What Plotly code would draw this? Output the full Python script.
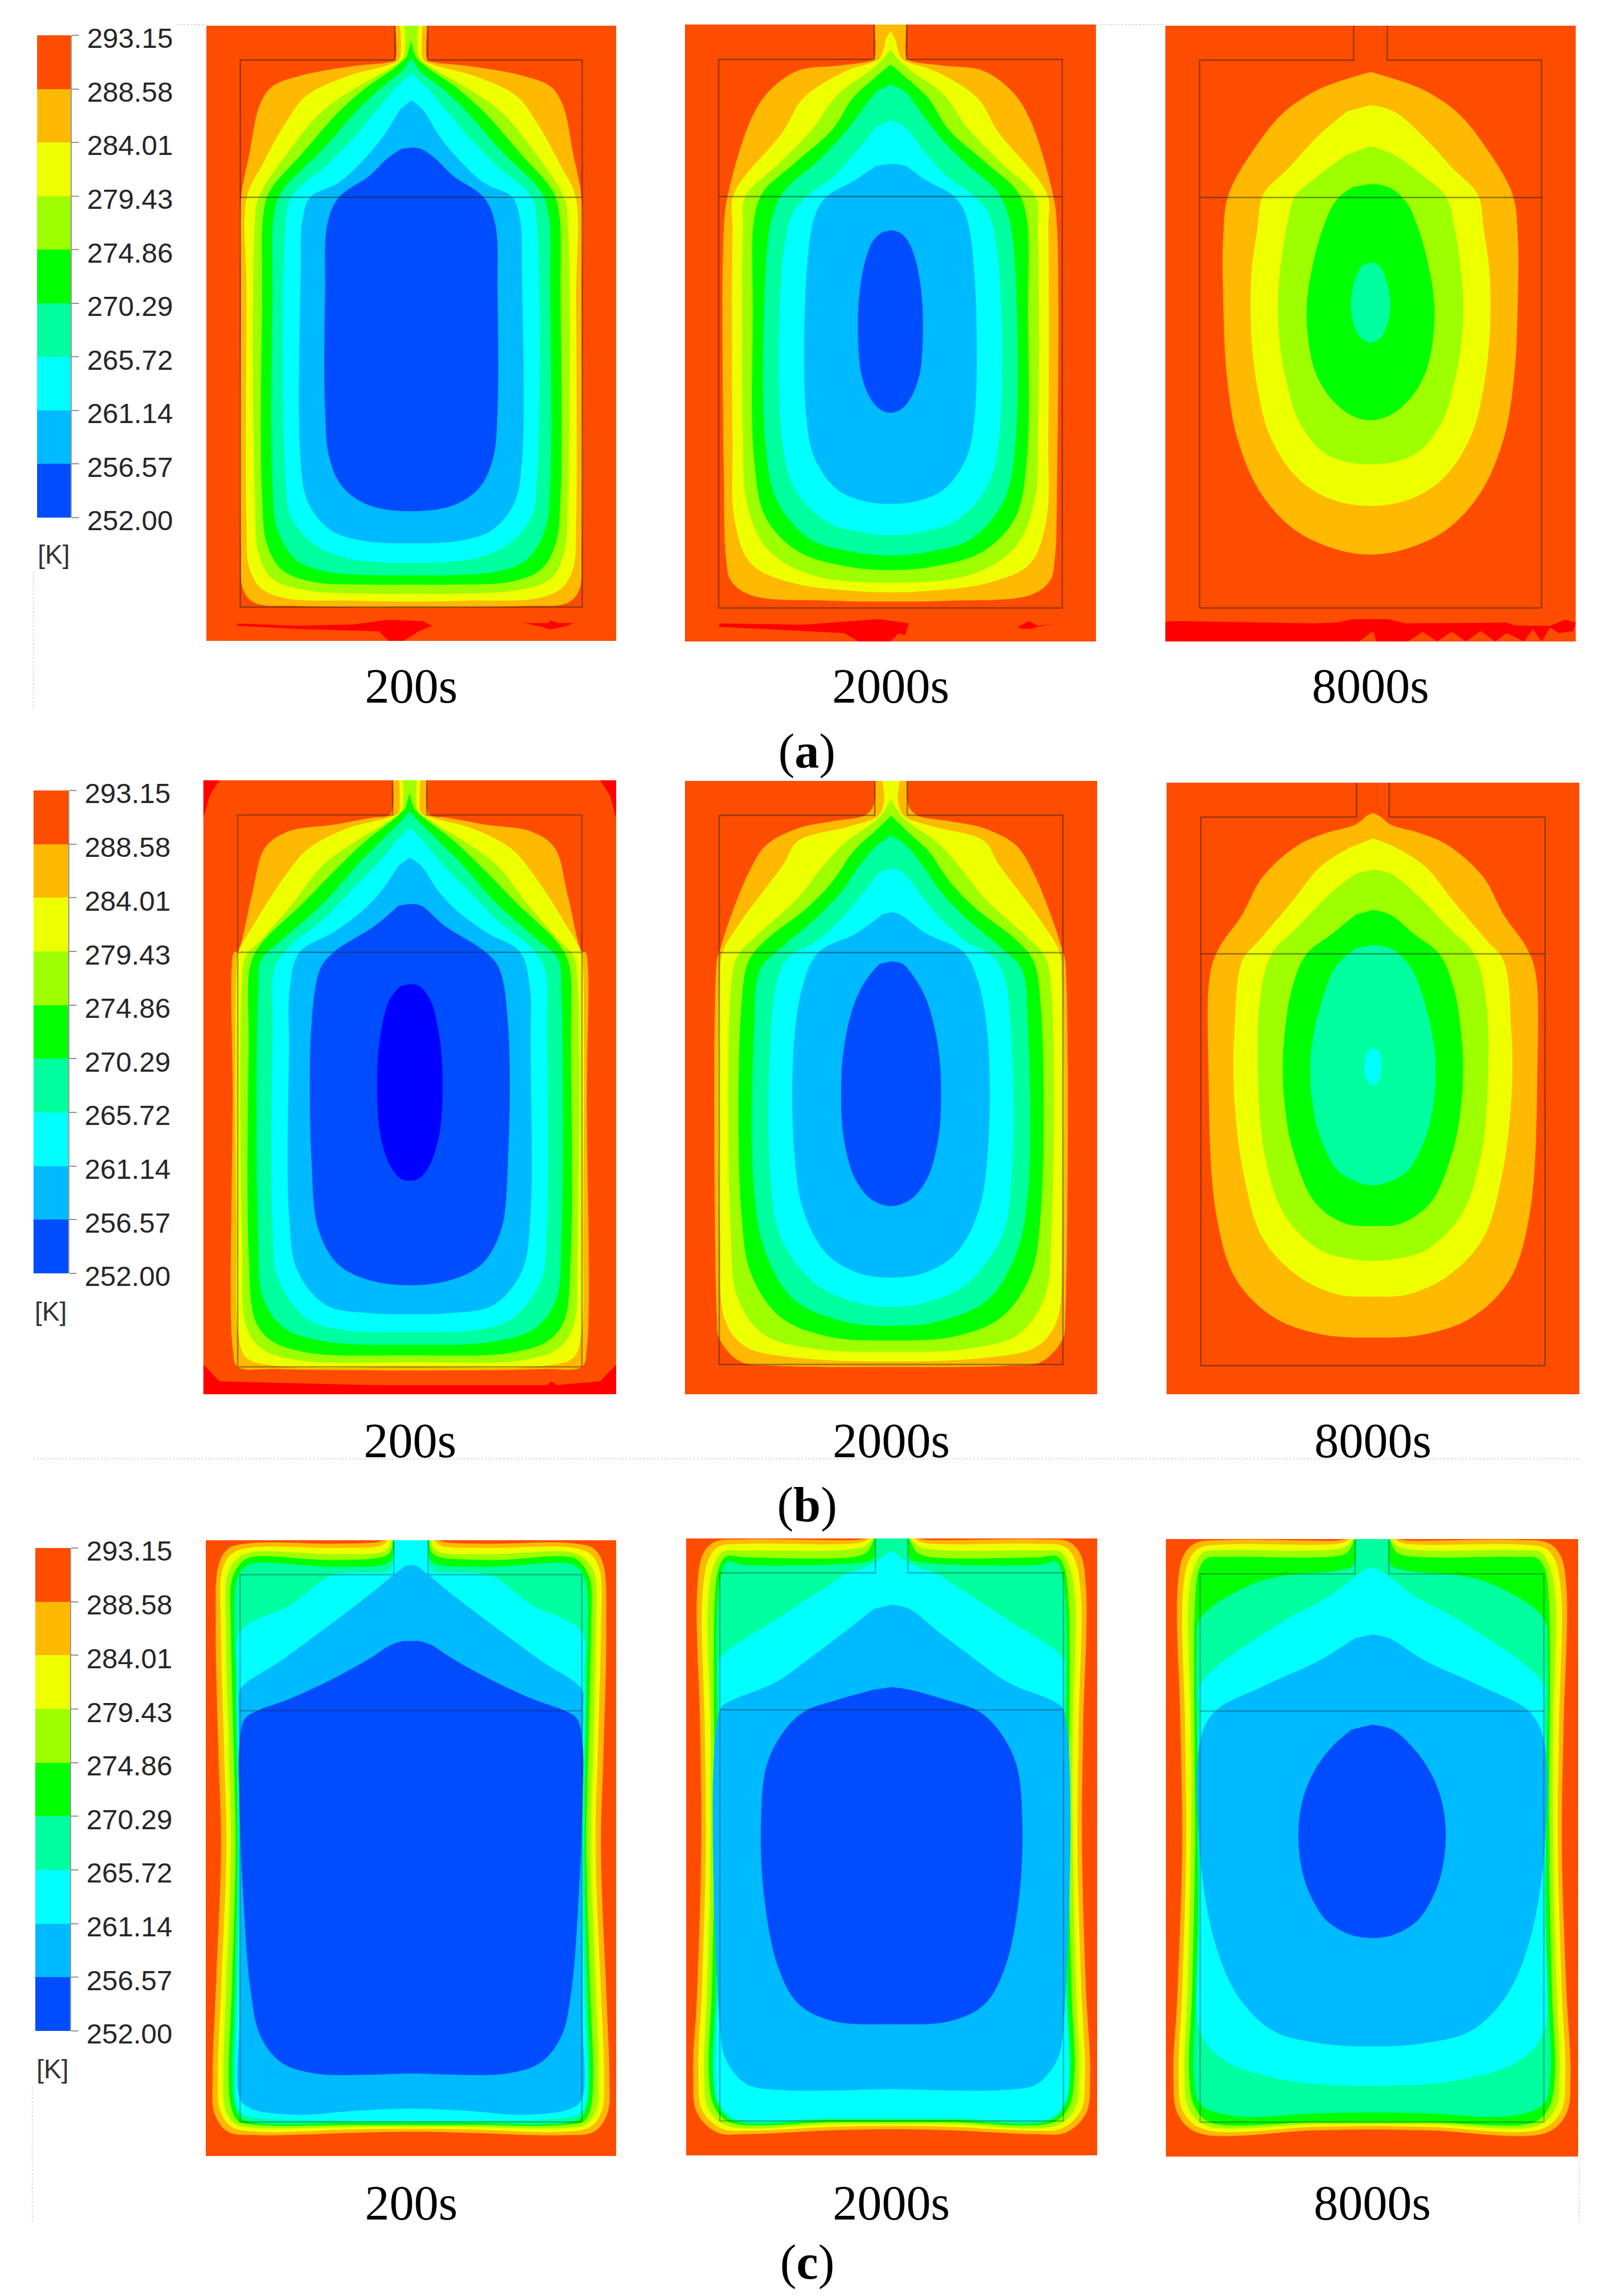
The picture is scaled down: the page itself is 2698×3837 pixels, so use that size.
import plotly.graph_objects as go

W, H = 2698, 3837

# ---------- colour scale ----------
LEVELS = [252.00, 256.57, 261.14, 265.72, 270.29, 274.86, 279.43, 284.01, 288.58, 293.15]
LEVEL_LABELS = ["252.00", "256.57", "261.14", "265.72", "270.29", "274.86", "279.43", "284.01", "288.58", "293.15"]
LEVEL_COLORS = ["#004DFF", "#00BAFF", "#00FFFF", "#00FF9E", "#00FF00", "#9EFF00", "#EEFF00", "#FFB900", "#FF4D00"]
BAND_COLORS = dict(O="#FFB900", Y="#EEFF00", L="#9EFF00", G="#00FF00", S="#00FF9E",
                   C="#00FFFF", K="#00BAFF", B="#004DFF", D="#0000FF", R="#FF0000")
TIME_LABELS = ["200s", "2000s", "8000s"]
GROUP_LABELS = ["a", "b", "c"]

# ---------- isotherm half-profiles: (half width, depth), top to bottom ----------
A1_BANDS = dict(
    O=[(43,17),(43,92),(60,97),(150,105),(285,125),(365,150),(397,190),(425,300),(446,392),(447,600),(447,1150),(440,1250),(410,1278),(300,1285),(0,1287)],
    Y=[(30,17),(27,60),(32,92),(60,103),(170,128),(275,170),(330,230),(390,320),(431,392),(432,600),(432,1100),(425,1200),(395,1245),(330,1268),(150,1273),(0,1275)],
    L=[(18,17),(16,60),(24,90),(60,112),(140,150),(235,205),(320,290),(400,392),(410,450),(410,1050),(400,1170),(365,1225),(280,1250),(100,1258),(0,1258)],
    G=[(0,50),(12,85),(45,110),(115,150),(190,205),(285,295),(372,380),(388,430),(391,600),(391,1050),(378,1150),(340,1205),(260,1232),(100,1238),(0,1238)],
    S=[(0,88),(22,115),(75,150),(140,200),(235,290),(340,380),(360,430),(364,600),(364,1020),(350,1120),(300,1185),(220,1210),(80,1218),(0,1218)],
    C=[(0,122),(38,150),(95,205),(150,260),(220,320),(315,392),(330,460),(330,1000),(315,1090),(255,1150),(170,1180),(60,1190),(0,1190)],
    K=[(0,180),(30,200),(75,260),(125,310),(190,360),(265,392),(285,440),(290,560),(290,970),(270,1060),(210,1120),(120,1143),(0,1148)],
    B=[(0,283),(25,286),(60,305),(110,345),(190,392),(220,450),(226,600),(226,860),(215,960),(180,1025),(110,1065),(0,1078)],
)
A2_BANDS = dict(
    O=[(28,15),(28,95),(35,102),(90,113),(160,125),(210,175),(240,240),(280,420),(287,500),(287,1100),(283,1290),(275,1340),(240,1375),(100,1388),(0,1390)],
    Y=[(0,30),(8,50),(18,95),(30,105),(75,125),(150,190),(185,270),(270,420),(272,500),(272,1000),(268,1200),(240,1300),(170,1345),(60,1365),(0,1368)],
    L=[(0,75),(15,100),(35,125),(90,180),(135,265),(195,350),(250,425),(254,500),(254,1000),(248,1150),(215,1260),(140,1325),(0,1345)],
    G=[(0,110),(30,145),(65,190),(100,265),(165,345),(220,415),(235,480),(237,700),(235,1050),(215,1190),(160,1270),(80,1305),(0,1315)],
    S=[(0,158),(25,175),(50,220),(80,275),(125,340),(185,415),(205,480),(215,600),(215,1020),(195,1150),(140,1240),(70,1270),(0,1280)],
    C=[(0,243),(25,260),(60,320),(100,380),(145,425),(170,470),(187,600),(187,1000),(165,1120),(110,1200),(50,1225),(0,1232)],
    K=[(0,347),(25,352),(60,385),(110,425),(130,470),(145,620),(145,950),(130,1050),(90,1125),(40,1152),(0,1157)],
    B=[(0,505),(15,510),(30,530),(42,570),(50,620),(55,680),(56,720),(55,790),(50,850),(35,905),(18,932),(0,940)],
)
A3_BANDS = dict(
    O=[(0,128),(25,138),(90,170),(150,225),(195,300),(245,420),(254,520),(254,680),(248,850),(230,1000),(190,1130),(130,1220),(60,1265),(0,1278)],
    Y=[(0,207),(40,222),(90,280),(140,355),(185,420),(195,500),(205,600),(207,680),(205,770),(195,880),(175,990),(130,1090),(70,1145),(0,1162)],
    L=[(0,305),(40,325),(90,375),(130,425),(145,500),(156,600),(160,680),(157,770),(146,860),(122,965),(75,1040),(0,1063)],
    G=[(0,395),(30,402),(60,435),(82,500),(100,590),(110,680),(108,760),(96,840),(72,900),(35,945),(0,958)],
    S=[(0,582),(14,588),(26,620),(33,665),(34,690),(30,725),(18,760),(0,773)],
)
B1_BANDS = dict(
    O=[(45,18),(45,80),(55,95),(100,100),(200,115),(320,130),(380,165),(415,270),(452,392),(462,395),(468,430),(465,700),(465,1260),(452,1300),(350,1305),(0,1308)],
    Y=[(28,18),(26,60),(30,90),(60,100),(170,125),(270,170),(330,230),(400,320),(450,394),(455,430),(455,1000),(450,1230),(430,1280),(350,1298),(0,1300)],
    L=[(18,18),(16,50),(22,85),(60,110),(140,150),(230,205),(310,290),(400,375),(430,400),(440,450),(440,1050),(430,1210),(390,1260),(300,1285),(0,1290)],
    G=[(0,45),(12,80),(45,105),(115,150),(185,205),(285,290),(390,375),(418,420),(423,600),(423,1050),(405,1200),(360,1245),(260,1270),(0,1275)],
    S=[(0,85),(20,105),(75,150),(135,200),(225,285),(340,370),(390,410),(398,480),(398,1020),(385,1150),(330,1215),(220,1245),(0,1252)],
    C=[(0,122),(35,150),(90,205),(150,255),(225,320),(320,385),(355,430),(360,560),(360,1000),(345,1110),(270,1195),(170,1220),(0,1225)],
    K=[(0,187),(30,205),(75,260),(120,300),(200,350),(290,394),(315,470),(317,600),(317,970),(295,1090),(220,1165),(100,1183),(0,1185)],
    B=[(0,288),(30,292),(90,335),(200,394),(235,430),(258,550),(258,850),(240,1000),(190,1075),(110,1110),(0,1122)],
    D=[(0,463),(25,468),(55,500),(78,580),(85,640),(86,680),(85,730),(78,790),(55,855),(25,888),(0,893)],
)
B2_BANDS = dict(
    O=[(28,22),(30,80),(45,104),(100,118),(160,135),(215,175),(245,240),(280,360),(296,430),(300,450),(300,1300),(296,1350),(260,1405),(200,1415),(0,1418)],
    Y=[(15,22),(12,70),(22,105),(70,130),(160,165),(185,220),(255,350),(290,430),(295,500),(295,1100),(285,1310),(250,1370),(170,1395),(0,1405)],
    L=[(0,65),(10,90),(25,115),(80,170),(120,230),(160,300),(235,395),(265,440),(276,520),(276,1100),(265,1250),(220,1340),(130,1375),(0,1382)],
    G=[(0,105),(30,145),(65,190),(100,260),(145,325),(215,400),(245,450),(258,560),(258,1050),(240,1200),(190,1300),(110,1345),(0,1355)],
    S=[(0,152),(25,175),(55,225),(85,285),(130,350),(190,420),(225,470),(236,620),(236,1000),(215,1150),(165,1260),(80,1310),(0,1320)],
    C=[(0,230),(20,240),(55,300),(85,350),(130,405),(175,440),(195,490),(208,650),(208,960),(190,1110),(130,1220),(60,1265),(0,1275)],
    K=[(0,335),(15,340),(60,385),(125,430),(150,500),(167,640),(167,900),(150,1050),(110,1150),(55,1195),(0,1205)],
    B=[(0,452),(20,458),(40,490),(60,540),(75,610),(84,690),(86,750),(85,830),(78,900),(62,970),(35,1018),(0,1035)],
)
B3_BANDS = dict(
    O=[(0,97),(12,105),(30,125),(80,145),(130,175),(190,250),(225,340),(265,420),(280,480),(283,700),(270,1050),(235,1210),(170,1300),(90,1340),(0,1348)],
    Y=[(0,158),(40,180),(90,225),(140,310),(195,400),(225,450),(238,620),(240,700),(236,820),(222,960),(190,1110),(130,1200),(60,1245),(0,1250)],
    L=[(0,232),(30,242),(70,285),(130,370),(175,435),(195,550),(198,720),(185,920),(150,1060),(90,1140),(40,1160),(0,1165)],
    G=[(0,328),(30,340),(70,385),(115,435),(140,520),(153,640),(155,710),(152,790),(138,900),(100,1025),(50,1075),(0,1082)],
    S=[(0,412),(30,420),(65,465),(93,570),(106,660),(108,710),(105,780),(93,860),(60,950),(25,978),(0,985)],
    C=[(0,657),(10,665),(15,700),(10,735),(0,747)],
)
C1_BANDS = dict(
    O=[(70,17),(90,21),(200,24),(420,23),(480,35),(505,70),(512,200),(505,450),(498,650),(512,950),(520,1120),(515,1200),(480,1238),(400,1245),(150,1240),(0,1238)],
    Y=[(60,17),(78,28),(200,33),(420,32),(470,45),(495,80),(498,200),(490,450),(484,650),(498,950),(506,1120),(500,1195),(470,1228),(400,1238),(150,1233),(0,1232)],
    L=[(52,17),(66,38),(200,46),(420,42),(458,57),(482,90),(485,200),(478,450),(472,650),(485,950),(492,1120),(487,1190),(460,1222),(400,1230),(150,1228),(0,1228)],
    G=[(48,17),(58,45),(200,58),(420,52),(448,66),(470,100),(472,200),(465,450),(460,650),(470,950),(478,1120),(472,1185),(455,1215),(400,1224),(150,1224),(0,1224)],
    S=[(46,17),(50,55),(65,66),(200,72),(420,66),(445,80),(460,110),(460,300),(455,650),(462,950),(468,1120),(462,1180),(440,1212),(150,1220),(0,1220)],
    C=[(45,17),(46,60),(60,80),(150,84),(215,92),(315,150),(447,205),(455,300),(450,650),(455,950),(462,1120),(455,1190),(430,1205),(150,1215),(0,1215)],
    K=[(0,68),(15,70),(40,85),(110,130),(210,190),(340,265),(448,325),(452,360),(448,500),(450,1000),(448,1170),(420,1190),(300,1203),(150,1195),(0,1190)],
    B=[(0,225),(20,225),(50,232),(110,262),(210,305),(320,345),(400,368),(435,385),(450,440),(450,550),(440,750),(420,950),(395,1040),(340,1095),(250,1118),(100,1120),(0,1118)],
)
C2_BANDS = dict(
    O=[(45,13),(60,16),(250,15),(305,20),(325,45),(335,120),(330,400),(328,650),(335,950),(342,1120),(335,1200),(300,1240),(250,1243),(100,1235),(0,1233)],
    Y=[(38,13),(55,22),(250,24),(298,30),(315,55),(326,130),(322,400),(320,650),(327,950),(333,1120),(326,1195),(292,1232),(250,1236),(100,1228),(0,1226)],
    L=[(33,13),(48,30),(250,38),(290,40),(305,65),(316,140),(312,400),(312,650),(318,950),(323,1120),(316,1190),(285,1225),(100,1222),(0,1222)],
    G=[(30,13),(42,40),(60,50),(250,52),(285,50),(298,75),(305,150),(305,650),(310,950),(315,1120),(306,1185),(280,1218),(100,1218),(0,1218)],
    S=[(29,13),(32,55),(50,62),(250,68),(285,62),(293,84),(300,150),(298,650),(303,950),(308,1120),(300,1180),(275,1214),(100,1214),(0,1214)],
    C=[(0,38),(25,60),(50,75),(75,84),(109,110),(199,180),(296,262),(298,300),(296,650),(300,950),(305,1120),(298,1178),(272,1210),(100,1210),(0,1210)],
    K=[(0,150),(30,158),(80,205),(130,250),(200,310),(280,350),(296,367),(296,1020),(285,1090),(250,1140),(190,1152),(100,1153),(0,1150)],
    B=[(0,320),(30,325),(90,345),(150,370),(185,410),(215,480),(225,590),(220,750),(195,900),(160,975),(100,1010),(0,1016)],
)
C3_BANDS = dict(
    O=[(45,15),(60,18),(250,17),(305,24),(325,50),(335,120),(330,400),(327,650),(335,950),(342,1120),(335,1200),(300,1240),(100,1235),(0,1233)],
    Y=[(38,15),(55,24),(250,26),(298,34),(315,58),(326,130),(322,400),(320,650),(327,950),(333,1120),(326,1195),(292,1232),(100,1228),(0,1226)],
    L=[(33,15),(48,32),(250,38),(290,42),(305,68),(316,140),(312,400),(312,650),(318,950),(323,1120),(316,1190),(285,1225),(100,1222),(0,1222)],
    G=[(30,15),(42,42),(60,50),(250,52),(285,55),(298,78),(305,150),(305,650),(310,950),(315,1120),(306,1185),(280,1218),(100,1218),(0,1218)],
    S=[(30,15),(32,68),(60,80),(150,90),(210,110),(295,178),(302,250),(298,650),(303,950),(307,1120),(296,1180),(240,1205),(100,1200),(0,1198)],
    C=[(0,72),(25,88),(70,130),(160,190),(296,315),(296,370),(300,450),(298,800),(296,1030),(255,1090),(155,1130),(0,1143)],
    K=[(0,212),(30,220),(90,265),(190,320),(270,370),(296,430),(296,670),(270,850),(230,960),(170,1030),(90,1055),(0,1062)],
    B=[(0,398),(35,408),(70,445),(100,495),(120,555),(127,620),(122,690),(108,745),(80,800),(40,830),(0,838)],
)

# ---------- hot patches outside the bands: closed (x, depth) outlines ----------
A1_HOT = [
    [(-457,1323),(-300,1328),(-150,1325),(-60,1315),(30,1318),(55,1328),(20,1340),(-20,1361),(-60,1361),(-85,1340),(-300,1335),(-457,1328)],
    [(295,1322),(360,1322),(365,1316),(385,1322),(428,1322),(400,1330),(365,1336),(340,1330)],
]
A2_HOT = [
    [(-295,1442),(-150,1445),(-20,1432),(32,1442),(25,1470),(15,1465),(0,1485),(-55,1485),(-80,1465),(-295,1450)],
    [(220,1450),(238,1436),(255,1448),(282,1442),(255,1450),(240,1455),(225,1455)],
]
A3_HOT = [
    [(-354,1438),(-340,1436),(-100,1442),(-60,1440),(-30,1432),(30,1432),(60,1442),(235,1440),(250,1447),(310,1448),(335,1433),(354,1440),
     (350,1460),(325,1465),(310,1452),(295,1485),(280,1455),(265,1485),(235,1465),(215,1485),(190,1460),(165,1485),(140,1462),(115,1485),
     (90,1462),(65,1485),(10,1485),(5,1460),(-20,1485),(-354,1485),(-354,1438)],
]
B1_HOT = [
    [(-542,18),(-500,18),(-525,50),(-542,100)],
    [(542,18),(500,18),(525,50),(542,100)],
    [(-542,1295),(-500,1332),(-100,1340),(360,1340),(372,1332),(385,1340),(500,1332),(542,1295),(542,1360),(-542,1360)],
]
NO_HOT = []

# ---------- panel geometry, same reading units as the profiles ----------
PANEL_NAMES = ["a1", "a2", "a3", "b1", "b2", "b3", "c1", "c2", "c3"]
PANEL_BANDS = [A1_BANDS, A2_BANDS, A3_BANDS, B1_BANDS, B2_BANDS, B3_BANDS, C1_BANDS, C2_BANDS, C3_BANDS]
PANEL_HOT = [A1_HOT, A2_HOT, A3_HOT, B1_HOT, NO_HOT, NO_HOT, NO_HOT, NO_HOT, NO_HOT]
PANEL_HALF = [537, 354, 354, 542, 355, 355, 538, 354, 355]
PANEL_TOP = [17, 15, 18, 18, 22, 25, 17, 13, 15]
PANEL_BOTTOM = [1361, 1485, 1485, 1360, 1483, 1483, 1288, 1287, 1289]
BOX_HALF = [448, 296, 295, 452, 296, 296, 448, 296, 296]
BOX_TOP = [92, 98, 100, 94, 104, 107, 88, 84, 87]
BOX_SHOULDER = [392, 425, 427, 394, 431, 433, 369, 367, 370]
BOX_BOTTOM = [1287, 1405, 1405, 1300, 1412, 1415, 1218, 1216, 1218]
NECK_HALF = [43, 28, 29, 45, 28, 28, 45, 28, 29]
BOX_ALPHA = [0.45, 0.45, 0.45, 0.4, 0.45, 0.45, 0.3, 0.3, 0.3]

# page pixels of each panel
PANEL_LEFT = [345, 1145, 1948, 340, 1145, 1950, 344, 1147, 1949]
PANEL_RIGHT = [1030, 1832, 2634, 1030, 1834, 2640, 1030, 1834, 2638]
PANEL_PX_TOP = [43, 41, 43, 1304, 1305, 1308, 2574, 2571, 2572]
PANEL_PX_BOTTOM = [1071, 1072, 1072, 2330, 2330, 2330, 3603, 3602, 3604]

BAR_LEFT = [62, 56, 59]
BAR_RIGHT = [118, 114, 117]
BAR_TOP = [59, 1321, 2587]
BAR_BOTTOM = [865, 2128, 3394]
K_Y = [927, 2191, 3457]
TIME_Y = [1147, 2407, 3681]
GROUP_Y = [1255, 2514, 3780]
GROUP_X = 1349

fig = go.Figure()
layout = {}


def mirrored(profile):
    right = list(profile)
    left = [(-w, d) for w, d in reversed(profile) if w != 0]
    pts = right + left
    return [p[0] for p in pts], [p[1] for p in pts]


for i, name in enumerate(PANEL_NAMES):
    n = i + 1
    suffix = "" if n == 1 else str(n)
    layout[f"xaxis{suffix}"] = dict(
        domain=[PANEL_LEFT[i] / W, PANEL_RIGHT[i] / W],
        range=[-PANEL_HALF[i], PANEL_HALF[i]], automargin=False,
        visible=False, anchor=f"y{suffix}", fixedrange=True)
    layout[f"yaxis{suffix}"] = dict(
        domain=[1 - PANEL_PX_BOTTOM[i] / H, 1 - PANEL_PX_TOP[i] / H],
        range=[PANEL_BOTTOM[i], PANEL_TOP[i]], automargin=False,
        visible=False, anchor=f"x{suffix}", fixedrange=True)
    xa, ya = f"x{suffix}", f"y{suffix}"

    for patch in PANEL_HOT[i]:
        fig.add_trace(go.Scatter(x=[p[0] for p in patch], y=[p[1] for p in patch], xaxis=xa, yaxis=ya,
                                 mode="lines", line=dict(width=0), fill="toself",
                                 fillcolor=BAND_COLORS["R"], hoverinfo="skip", showlegend=False))
    for key, profile in PANEL_BANDS[i].items():
        xs, ys = mirrored(profile)
        fig.add_trace(go.Scatter(x=xs, y=ys, xaxis=xa, yaxis=ya, mode="lines",
                                 line=dict(width=0, shape="spline", smoothing=1.0), fill="toself",
                                 fillcolor=BAND_COLORS[key], hoverinfo="skip", showlegend=False))
    R, T, S, B, N, Y0 = BOX_HALF[i], BOX_TOP[i], BOX_SHOULDER[i], BOX_BOTTOM[i], NECK_HALF[i], PANEL_TOP[i]
    fig.add_trace(go.Scatter(
        x=[-N, -N, -R, -R, R, R, N, N, None, -R, R],
        y=[Y0, T, T, B, B, T, T, Y0, None, S, S],
        xaxis=xa, yaxis=ya, mode="lines",
        line=dict(color=f"rgba(30,30,30,{BOX_ALPHA[i]})", width=2.5),
        hoverinfo="skip", showlegend=False))

# colour bars on real value axes
for g in range(3):
    n = 10 + g
    layout[f"xaxis{n}"] = dict(domain=[BAR_LEFT[g] / W, BAR_RIGHT[g] / W], range=[-0.5, 0.5], automargin=False,
                               visible=False, anchor=f"y{n}", fixedrange=True)
    layout[f"yaxis{n}"] = dict(
        domain=[1 - BAR_BOTTOM[g] / H, 1 - BAR_TOP[g] / H], range=[LEVELS[0], LEVELS[-1]],
        anchor=f"x{n}", side="right", tickmode="array", tickvals=LEVELS, ticktext=LEVEL_LABELS,
        ticks="outside", ticklen=12, tickwidth=2, tickcolor="#999999", showline=True, automargin=False,
        linecolor="#999999", linewidth=2, showgrid=False, zeroline=False, fixedrange=True,
        ticklabelstandoff=4, ticklabelshift=5,
        tickfont=dict(family="Liberation Sans", size=47, color="#262626"))
    fig.add_trace(go.Bar(
        x=[0] * len(LEVEL_COLORS), base=LEVELS[:-1],
        y=[hi - lo for lo, hi in zip(LEVELS[:-1], LEVELS[1:])],
        width=1, marker=dict(color=LEVEL_COLORS, line=dict(width=0)),
        xaxis=f"x{n}", yaxis=f"y{n}", hoverinfo="skip", showlegend=False))

annotations = []
for g in range(3):
    annotations.append(dict(text="[K]", x=(BAR_LEFT[g] + BAR_RIGHT[g]) / 2 / W, y=1 - K_Y[g] / H,
                            xref="paper", yref="paper", showarrow=False, xanchor="center", yanchor="middle",
                            font=dict(family="Liberation Sans", size=44, color="#333333")))
    annotations.append(dict(text=f"(<b>{GROUP_LABELS[g]}</b>)", x=GROUP_X / W, y=1 - GROUP_Y[g] / H,
                            xref="paper", yref="paper", showarrow=False, xanchor="center", yanchor="middle",
                            font=dict(family="Liberation Serif", size=82, color="#000000")))
    for t in range(3):
        i = g * 3 + t
        annotations.append(dict(text=TIME_LABELS[t], x=(PANEL_LEFT[i] + PANEL_RIGHT[i]) / 2 / W, y=1 - TIME_Y[g] / H,
                                xref="paper", yref="paper", showarrow=False, xanchor="center", yanchor="middle",
                                font=dict(family="Liberation Serif", size=82, color="#000000")))

GUIDES = [(56, 955, 56, 1185), (55, 2438, 2642, 2438), (54, 3487, 54, 3714), (2640, 3605, 2640, 3714),
          (295, 41, 345, 41), (1832, 41, 1948, 41)]
shapes = [dict(type="line", xref="paper", yref="paper", x0=a / W, y0=1 - b / H, x1=c / W, y1=1 - d / H,
               line=dict(color="#DDDDDD", width=2, dash="dot")) for a, b, c, d in GUIDES]

fig.update_layout(width=W, height=H, margin=dict(l=0, r=0, t=0, b=0), autosize=False,
                  paper_bgcolor="#FFFFFF", plot_bgcolor="#FF4D00", barmode="overlay", bargap=0,
                  showlegend=False, annotations=annotations, shapes=shapes, **layout)
fig.write_html("out.html", config=dict(displayModeBar=False),
               post_script="document.body.style.margin='0';")
